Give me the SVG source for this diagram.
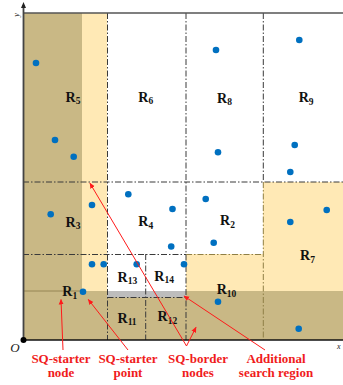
<svg xmlns="http://www.w3.org/2000/svg" width="343" height="385" viewBox="0 0 343 385">
<defs>
<style>
.dd{stroke:#3a3a3a;stroke-width:1;fill:none;stroke-dasharray:6 2 1.5 2}
.dy{stroke:#8f7f45;stroke-width:1;fill:none;stroke-dasharray:6 2 1.5 2}
.pt{fill:#0070C0}
.lb{font-family:"Liberation Serif","Times New Roman",serif;font-weight:bold;font-size:14px;fill:#111}
.lb tspan{font-size:9.5px}
.rl{font-family:"Liberation Serif","Times New Roman",serif;font-weight:bold;font-size:13px;fill:#f01c1c;text-anchor:middle}
.ar{stroke:#ff1a1a;stroke-width:1;fill:none;marker-end:url(#ah)}
</style>
<marker id="ah" markerWidth="6" markerHeight="6" refX="5" refY="3" orient="auto" markerUnits="userSpaceOnUse">
<path d="M0,0.5 L5.5,3 L0,5.5 Z" fill="#ff1a1a"/>
</marker>
<marker id="ax" markerWidth="6" markerHeight="6" refX="3" refY="3" orient="auto" markerUnits="userSpaceOnUse">
<path d="M0,0.5 L6,3 L0,5.5 Z" fill="#222"/>
</marker>
</defs>
<rect width="343" height="385" fill="#fff"/>
<g id="regions">
<rect x="23" y="13" width="59" height="278" fill="#C9B885"/>
<rect x="23" y="291" width="320" height="49" fill="#C9B885"/>
<rect x="82" y="13" width="25" height="278" fill="#FFE9B5"/>
<rect x="186" y="254" width="77" height="37" fill="#FFE9B5"/>
<rect x="263" y="182" width="80" height="109" fill="#FFE9B5"/>
<rect x="107" y="291" width="79" height="6.5" fill="#BDBDBD"/>
<line x1="23" y1="291" x2="82" y2="291" stroke="#8c7a48" stroke-width="0.8"/>
</g>
<g id="grid">
<line class="dd" x1="107.5" y1="13" x2="107.5" y2="340"/>
<line class="dd" x1="186" y1="13" x2="186" y2="340"/>
<line class="dd" x1="263.3" y1="13" x2="263.3" y2="182"/>
<line class="dy" x1="263.3" y1="182" x2="263.3" y2="340"/>
<line class="dd" x1="145.7" y1="254" x2="145.7" y2="340"/>
<line class="dd" x1="23" y1="182" x2="343" y2="182"/>
<line class="dd" x1="23" y1="254.5" x2="186" y2="254.5"/>
<line class="dy" x1="186" y1="254.5" x2="263.3" y2="254.5"/>
<line class="dd" x1="107.5" y1="297.5" x2="186" y2="297.5"/>
</g>
<g id="axes">
<line x1="23" y1="13" x2="343" y2="13" stroke="#555" stroke-width="1.5"/>
<line x1="23.5" y1="340" x2="23.5" y2="5" stroke="#444" stroke-width="1.8" marker-end="url(#ax)"/>
<line x1="23" y1="340" x2="343" y2="340" stroke="#111" stroke-width="1.6"/>
<circle cx="23.5" cy="340" r="3" fill="#000"/>
<text x="15" y="352" font-family="Liberation Serif,serif" font-style="italic" font-size="13" text-anchor="middle" fill="#222">O</text>
<text x="337" y="349" font-family="Liberation Serif,serif" font-style="italic" font-size="8" fill="#222">x</text>
<text transform="translate(19,15) rotate(-90)" font-family="Liberation Serif,serif" font-style="italic" font-size="8" fill="#222" text-anchor="middle">y</text>
</g>
<g id="points">
<circle class="pt" cx="36" cy="63" r="3.3"/>
<circle class="pt" cx="55" cy="140" r="3.3"/>
<circle class="pt" cx="73.7" cy="156.7" r="3.3"/>
<circle class="pt" cx="216" cy="50" r="3.3"/>
<circle class="pt" cx="299.3" cy="40" r="3.3"/>
<circle class="pt" cx="218" cy="152.3" r="3.3"/>
<circle class="pt" cx="294.7" cy="145" r="3.3"/>
<circle class="pt" cx="290.3" cy="172" r="3.3"/>
<circle class="pt" cx="50.7" cy="214.3" r="3.3"/>
<circle class="pt" cx="92" cy="205" r="3.3"/>
<circle class="pt" cx="128.3" cy="194.3" r="3.3"/>
<circle class="pt" cx="172.5" cy="209" r="3.3"/>
<circle class="pt" cx="171.2" cy="246.5" r="3.3"/>
<circle class="pt" cx="205.7" cy="199" r="3.3"/>
<circle class="pt" cx="213.7" cy="242.7" r="3.3"/>
<circle class="pt" cx="92" cy="264.3" r="3.3"/>
<circle class="pt" cx="103.7" cy="264.3" r="3.3"/>
<circle class="pt" cx="136.7" cy="264.3" r="3.3"/>
<circle class="pt" cx="184" cy="264.3" r="3.3"/>
<circle class="pt" cx="83" cy="291.7" r="3.3"/>
<circle class="pt" cx="290.3" cy="222" r="3.3"/>
<circle class="pt" cx="326.7" cy="210" r="3.3"/>
<circle class="pt" cx="218" cy="301.7" r="3.3"/>
<circle class="pt" cx="298.7" cy="328.7" r="3.3"/>
</g>
<g id="labels">
<g id="R5"><text class="lb" x="65.5" y="101.5">R<tspan dy="2.5">5</tspan></text></g>
<g id="R6"><text class="lb" x="138.3" y="101.5">R<tspan dy="2.5">6</tspan></text></g>
<g id="R8"><text class="lb" x="217" y="102.5">R<tspan dy="2.5">8</tspan></text></g>
<g id="R9"><text class="lb" x="298.7" y="102">R<tspan dy="2.5">9</tspan></text></g>
<g id="R3"><text class="lb" x="65.5" y="226.5">R<tspan dy="2.5">3</tspan></text></g>
<g id="R4"><text class="lb" x="138.3" y="226">R<tspan dy="2.5">4</tspan></text></g>
<g id="R2"><text class="lb" x="220" y="225">R<tspan dy="2.5">2</tspan></text></g>
<g id="R7"><text class="lb" x="300" y="260">R<tspan dy="2.5">7</tspan></text></g>
<g id="R13"><text class="lb" x="117.5" y="281.7">R<tspan dy="2.5">13</tspan></text></g>
<g id="R14"><text class="lb" x="154.3" y="280.7">R<tspan dy="2.5">14</tspan></text></g>
<g id="R1"><text class="lb" x="62.3" y="296">R<tspan dy="2.5">1</tspan></text></g>
<g id="R10"><text class="lb" x="216.7" y="294">R<tspan dy="2.5">10</tspan></text></g>
<g id="R11"><text class="lb" x="117.5" y="322.7">R<tspan dy="2.5">11</tspan></text></g>
<g id="R12"><text class="lb" x="157.5" y="321">R<tspan dy="2.5">12</tspan></text></g>
</g>
<g id="connectors">
<line class="ar" x1="63" y1="350" x2="61" y2="299.5"/>
<line class="ar" x1="128" y1="350" x2="88.3" y2="299.5"/>
<line class="ar" x1="186.5" y1="346" x2="90" y2="183.3"/>
<line class="ar" x1="186.5" y1="346" x2="196" y2="327.3"/>
<line class="ar" x1="265" y1="350" x2="184" y2="296"/>
</g>
<g id="annotations">
<text class="rl" x="61" y="362.5">SQ-starter</text>
<text class="rl" x="61" y="377">node</text>
<text class="rl" x="128" y="362.5">SQ-starter</text>
<text class="rl" x="128" y="377">point</text>
<text class="rl" x="198" y="362.5">SQ-border</text>
<text class="rl" x="198" y="377">nodes</text>
<text class="rl" x="276" y="362.5">Additional</text>
<text class="rl" x="276" y="377">search region</text>
</g>
</svg>
